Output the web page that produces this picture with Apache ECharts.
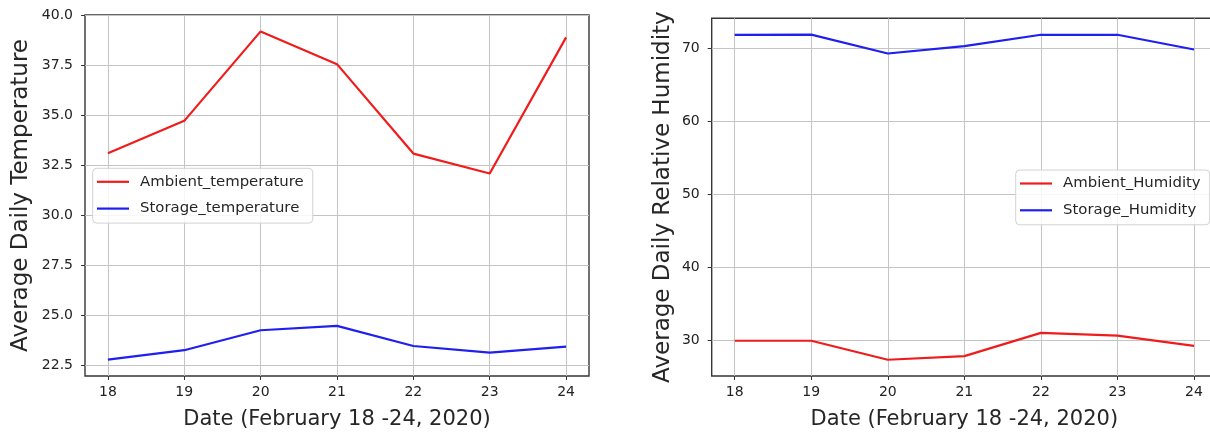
<!DOCTYPE html>
<html>
<head>
<meta charset="utf-8">
<script src="https://cdn.jsdelivr.net/npm/echarts@6/dist/echarts.min.js"></script>
<style>
  html, body { margin: 0; padding: 0; background: #ffffff; }
  #chart { width: 1210px; height: 434px; }
</style>
</head>
<body>
<div id="chart"></div>
<script>
// Days of February 2020
const days = [18, 19, 20, 21, 22, 23, 24];

// Average daily temperature (°C)
const ambientTemperature = [33.11, 34.73, 39.21, 37.57, 33.09, 32.09, 38.91];
const storageTemperature = [22.77, 23.24, 24.24, 24.46, 23.45, 23.12, 23.42];

// Average daily relative humidity (%)
const ambientHumidity = [30.0, 30.0, 27.4, 27.9, 31.08, 30.7, 29.3];
const storageHumidity = [71.87, 71.9, 69.31, 70.32, 71.87, 71.87, 69.86];

// Tick positions
const dayTicks = [18, 19, 20, 21, 22, 23, 24];
const temperatureTicks = [22.5, 25.0, 27.5, 30.0, 32.5, 35.0, 37.5, 40.0];
const humidityTicks = [30, 40, 50, 60, 70];

const FONT = 'DejaVu Sans';
const RED = '#f01c1c';
const BLUE = '#1f1ff0';
const TEXT = '#262626';

// Autoscale with a 5% margin on each side of the data range
function padded(arrays) {
  const all = [].concat(...arrays);
  const lo = Math.min(...all), hi = Math.max(...all);
  const m = (hi - lo) * 0.05;
  return [lo - m, hi + m];
}

const dayRange = padded([days]);
const tempRange = padded([ambientTemperature, storageTemperature]);
const humRange = padded([ambientHumidity, storageHumidity]);

const pairs = (ys) => days.map((d, i) => [d, ys[i]]);

function xAxis(gridIndex) {
  return {
    type: 'value', gridIndex,
    min: dayRange[0], max: dayRange[1],
    minInterval: 1, maxInterval: 1,
    name: 'Date (February 18 -24, 2020)',
    nameLocation: 'middle', nameGap: 33,
    nameTextStyle: { fontFamily: FONT, fontSize: 21, color: TEXT },
    axisLine: { show: false },
    axisTick: { show: true, length: 4, customValues: dayTicks, lineStyle: { color: '#333', width: 1 } },
    axisLabel: { customValues: dayTicks, margin: 9, fontFamily: FONT, fontSize: 14, color: '#222',
                 formatter: (v) => String(v) },
    splitLine: { show: true, lineStyle: { color: '#c4c4c4', width: 1 } }
  };
}

function yAxis(gridIndex, range, ticks, step, name, gap, fmt) {
  return {
    type: 'value', gridIndex,
    min: range[0], max: range[1],
    minInterval: step, maxInterval: step,
    name, nameLocation: 'middle', nameGap: gap, nameRotate: 90,
    nameTextStyle: { fontFamily: FONT, fontSize: 23, color: TEXT },
    axisLine: { show: false },
    axisTick: { show: true, length: 4, customValues: ticks, lineStyle: { color: '#333', width: 1 } },
    axisLabel: { customValues: ticks, margin: 12, fontFamily: FONT, fontSize: 14, color: '#222', formatter: fmt },
    splitLine: { show: true, lineStyle: { color: '#c4c4c4', width: 1 } }
  };
}

function lineSeries(name, ys, color, axisIndex) {
  return {
    type: 'line', name, data: pairs(ys),
    xAxisIndex: axisIndex, yAxisIndex: axisIndex,
    symbol: 'none', smooth: false,
    lineStyle: { color, width: 2.2 },
    itemStyle: { color },
    emphasis: { disabled: true },
    z: 3
  };
}

function legend(names, left, top) {
  return {
    data: names, orient: 'vertical', left, top,
    icon: 'rect',
    itemWidth: 32, itemHeight: 2.2, itemGap: 11.8,
    padding: [6, 9, 7, 4.3],
    backgroundColor: 'rgba(255,255,255,0.85)',
    borderColor: '#d2d2d2', borderWidth: 1, borderRadius: 4,
    textStyle: { fontFamily: FONT, fontSize: 14.9, color: TEXT, padding: [0, 0, 0, 6] },
    selectedMode: false
  };
}

const gridFrame = { show: true, borderColor: '#363636', borderWidth: 1.4, backgroundColor: 'transparent', outerBoundsMode: 'none', containLabel: false };

const chart = echarts.init(document.getElementById('chart'), null, { renderer: 'canvas' });
chart.setOption({
  animation: false,
  backgroundColor: '#ffffff',
  grid: [
    Object.assign({ left: 85, top: 15, width: 504, bottom: 58 }, gridFrame),
    Object.assign({ left: 711.7, top: 18.3, width: 505.3, bottom: 58 }, gridFrame)
  ],
  xAxis: [xAxis(0), xAxis(1)],
  yAxis: [
    yAxis(0, tempRange, temperatureTicks, 2.5, 'Average Daily Temperature', 52, (v) => v.toFixed(1)),
    yAxis(1, humRange, humidityTicks, 10, 'Average Daily Relative Humidity', 37, (v) => String(Math.round(v)))
  ],
  legend: [
    legend(['Ambient_temperature', 'Storage_temperature'], 92.7, 168.3),
    legend(['Ambient_Humidity', 'Storage_Humidity'], 1015.7, 170)
  ],
  series: [
    lineSeries('Ambient_temperature', ambientTemperature, RED, 0),
    lineSeries('Storage_temperature', storageTemperature, BLUE, 0),
    lineSeries('Ambient_Humidity', ambientHumidity, RED, 1),
    lineSeries('Storage_Humidity', storageHumidity, BLUE, 1)
  ]
});
</script>
</body>
</html>
